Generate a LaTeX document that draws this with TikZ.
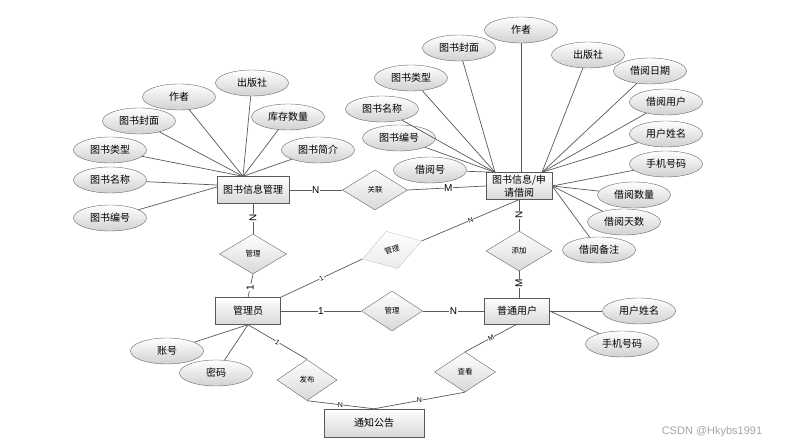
\documentclass[tikz,border=0pt]{standalone}
\usepackage{fontspec}
\setmainfont{Noto Sans CJK SC}
\newfontfamily\lat{Liberation Sans}
\usetikzlibrary{shapes.geometric}
\begin{document}
\begin{tikzpicture}[x=1pt,y=-1pt,
 attr/.style={ellipse,draw=black!60,top color=white,bottom color=black!18,minimum width=73pt,minimum height=26pt,inner sep=0pt,font=\fontsize{10}{12}\selectfont},
 ent/.style={rectangle,draw=black!65,top color=white,bottom color=black!15,minimum height=27pt,inner sep=1pt,font=\fontsize{10}{13}\selectfont,align=center},
 rel/.style={diamond,draw=black!60,top color=white,bottom color=black!15,minimum width=64pt,minimum height=40pt,inner sep=0pt,font=\fontsize{7.5}{9}\selectfont},
 ln/.style={draw=black!65,line width=0.7pt},
 lab/.style={fill=white,inner sep=0.5pt,font=\lat\fontsize{10}{10}\selectfont},
 slab/.style={fill=white,inner sep=0.3pt,font=\lat\fontsize{7}{7}\selectfont},
]
\useasboundingbox[fill=white] (0,0) rectangle (785,446);

% entities
\node[ent,minimum width=72pt] (e1) at (253,190) {图书信息管理};
\node[ent,minimum width=66pt] (e2) at (519,186) {图书信息/申\\请借阅};
\node[ent,minimum width=65pt] (gly) at (248,311) {管理员};
\node[ent,minimum width=65pt,minimum height=26pt] (pt) at (517,311) {普通用户};
\node[ent,minimum width=100pt,minimum height=28pt] (tz) at (374,423) {通知公告};

% relations
\node[rel,minimum width=65pt] (gl) at (375,190) {关联};
\node[rel,minimum width=67pt] (m1) at (253,254) {管理};
\node[rel,minimum width=61pt] (m2) at (392,311) {管理};
\node[rel,minimum width=62pt,minimum height=39pt,rotate=17,draw=black!22,bottom color=black!8] (m3) at (392,250) {管理};
\node[rel,minimum width=66pt] (tj) at (519,251) {添加};
\node[rel,minimum width=60pt,minimum height=41pt] (fb) at (307,380) {发布};
\node[rel,minimum width=61pt] (ck) at (465,372) {查看};

% left attributes
\node[attr] (a1) at (179,97) {作者};
\node[attr] (a2) at (252,83) {出版社};
\node[attr] (a3) at (139,121) {图书封面};
\node[attr] (a4) at (288,117) {库存数量};
\node[attr] (a5) at (110,150) {图书类型};
\node[attr] (a6) at (318,150) {图书简介};
\node[attr] (a7) at (110,180) {图书名称};
\node[attr] (a8) at (110,218) {图书编号};

% right attributes
\node[attr] (b1) at (521,30) {作者};
\node[attr] (b2) at (459,48) {图书封面};
\node[attr] (b3) at (588,55) {出版社};
\node[attr] (b4) at (411,78) {图书类型};
\node[attr] (b5) at (650,71) {借阅日期};
\node[attr] (b6) at (382,109) {图书名称};
\node[attr] (b7) at (666,102) {借阅用户};
\node[attr] (b8) at (399,138) {图书编号};
\node[attr] (b9) at (666,134) {用户姓名};
\node[attr] (b10) at (430,170) {借阅号};
\node[attr] (b11) at (666,164) {手机号码};
\node[attr] (b12) at (634,195) {借阅数量};
\node[attr] (b13) at (624,222) {借阅天数};
\node[attr] (b14) at (599,250) {借阅备注};

% other attributes
\node[attr] (c1) at (639,311) {用户姓名};
\node[attr] (c2) at (622,344) {手机号码};
\node[attr] (d1) at (167,351) {账号};
\node[attr] (d2) at (216,373) {密码};

% attribute lines
\foreach \a in {a1,a2,a3,a4,a5,a6} \draw[ln] (\a) -- ([xshift=-10pt]e1.north);
\draw[ln] (a7) -- ([yshift=5pt]e1.west);
\draw[ln] (a8) -- ([yshift=3pt]e1.west);
\draw[ln] (b1.south) -- (b1.south |- e2.north);
\foreach \a in {b2,b4,b6,b8,b10} \draw[ln] (\a) -- ([xshift=-24pt]e2.north);
\foreach \a in {b3,b5,b7,b9} \draw[ln] (\a) -- ([xshift=23pt]e2.north);
\foreach \a in {b11,b12,b13,b14} \draw[ln] (\a) -- (e2.east);
\draw[ln] (c1) -- (c1 -| pt.east);
\draw[ln] (c2) -- (pt.east);
\draw[ln] (d1) -- (gly.south);
\draw[ln] (d2) -- (gly.south);

% relationship lines
\draw[ln] (e1.east) -- node[lab] {N} (gl.west);
\draw[ln] (gl.east) -- node[lab,pos=0.52] {M} (e2.west);
\draw[ln] (e1.south) -- node[lab,rotate=90,pos=0.47] {N} (m1.north);
\draw[ln] (m1.south) -- node[lab,rotate=90,pos=0.57] {1} (gly.north);
\draw[ln] (gly.east) -- node[lab] {1} (m2.west);
\draw[ln] (m2.east) -- node[lab] {N} (pt.west);
\draw[ln] (e2.south) -- node[lab,rotate=90] {N} (tj.north);
\draw[ln] (tj.south) -- node[lab,rotate=90,pos=0.45] {M} (tj.south |- pt.north);
\draw[ln] (gly.north east) -- node[slab,sloped] {1} (m3.west);
\draw[ln] (m3.east) -- node[slab,sloped] {N} (e2.south);
\draw[ln] (gly.south) -- node[slab,sloped] {1} (fb.north);
\draw[ln] (fb.south) -- node[slab] {N} (tz.north);
\draw[ln] (pt.south) -- node[slab,sloped] {M} (ck.north);
\draw[ln] (ck.south) -- node[slab] {N} (tz.north);

% watermark
\node[font=\lat\fontsize{11}{11}\selectfont,text=black!35] (wm) at (712,432) {CSDN @Hkybs1991};
\end{tikzpicture}
\end{document}
